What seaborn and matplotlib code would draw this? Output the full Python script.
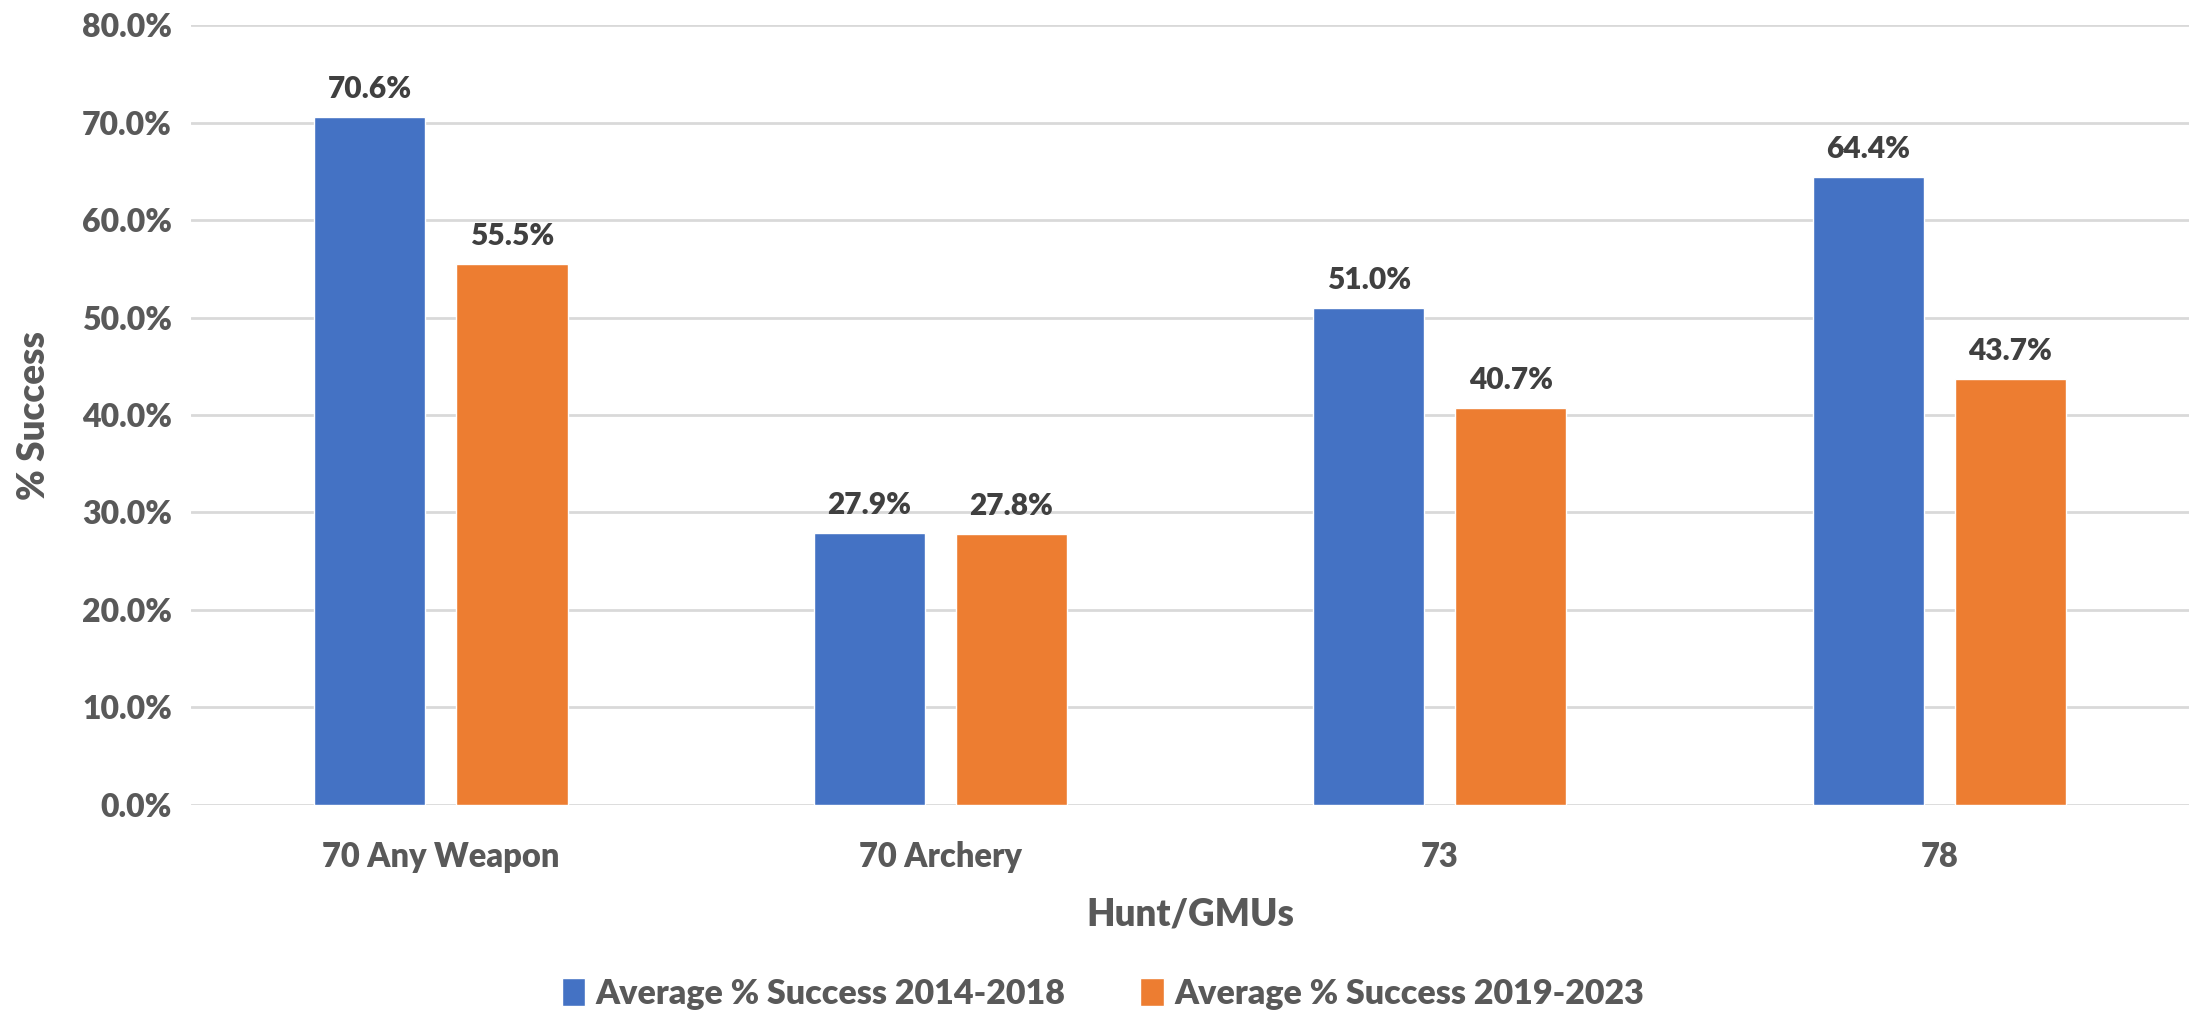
import matplotlib
matplotlib.use("Agg")
import matplotlib.pyplot as plt
import seaborn as sns
import pandas as pd
from matplotlib.ticker import PercentFormatter

categories = ["70 Any Weapon", "70 Archery", "73", "78"]
series_names = ["Average % Success 2014-2018", "Average % Success 2019-2023"]
success_2014_2018 = [70.6, 27.9, 51.0, 64.4]
success_2019_2023 = [55.5, 27.8, 40.7, 43.7]
y_ticks = [0, 10, 20, 30, 40, 50, 60, 70, 80]

df = pd.DataFrame({
    "Hunt/GMUs": categories * 2,
    "Series": [series_names[0]] * len(categories) + [series_names[1]] * len(categories),
    "Success": success_2014_2018 + success_2019_2023,
})

W = "heavy"
sns.set_theme(style="white")
plt.rcParams["font.family"] = ["Lato", "DejaVu Sans"]
plt.rcParams["font.weight"] = W

fig = plt.figure(figsize=(22.06, 10.19), dpi=100)
ax = fig.add_axes([0.0867, 0.2102, 0.9056, 0.765])

palette = {series_names[0]: "#4472C4", series_names[1]: "#ED7D31"}
sns.barplot(data=df, x="Hunt/GMUs", y="Success", hue="Series", order=categories,
            hue_order=series_names, palette=palette, width=0.569, gap=0.218,
            saturation=1, ax=ax, legend=True)

ax.set_ylim(0, 80)
ax.set_xlim(-0.5, len(categories) - 0.5)
ax.set_yticks(y_ticks)
ax.yaxis.set_major_formatter(PercentFormatter(decimals=1))
ax.grid(axis="y", color="#D9D9D9", linewidth=2)
ax.set_axisbelow(True)
for s in ax.spines.values():
    s.set_visible(False)
ax.tick_params(axis="y", length=0, labelsize=23, labelcolor="#595959", pad=14)
ax.tick_params(axis="x", length=0, labelsize=23.5, labelcolor="#595959", pad=26)
for lab in ax.get_xticklabels() + ax.get_yticklabels():
    lab.set_fontweight(W)

ax.set_xlabel("Hunt/GMUs", fontsize=26.5, fontweight=W, color="#595959", labelpad=18)
ax.set_ylabel("% Success", fontsize=26.5, fontweight=W, color="#595959", labelpad=22)

for cont in ax.containers:
    ax.bar_label(cont, labels=[f"{v:.1f}%" for v in cont.datavalues], padding=10,
                 fontsize=21.5, fontweight=W, color="#404040")

handles, labels = ax.get_legend_handles_labels()
ax.get_legend().remove()
fig.legend(handles, labels, loc="center", bbox_to_anchor=(0.5, 0.025), ncol=2,
           frameon=False, handlelength=0.7, handleheight=0.9,
           handletextpad=0.3, columnspacing=2.2, labelcolor="#595959",
           prop={"weight": W, "size": 24.5})

fig.savefig("out.png", dpi=100)
